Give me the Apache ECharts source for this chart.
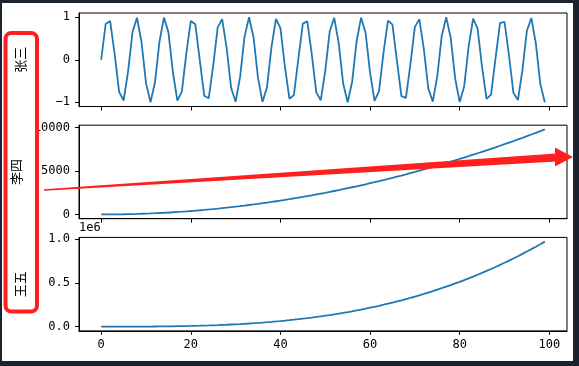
<!DOCTYPE html>
<html><head><meta charset="utf-8">
<script src="https://cdn.jsdelivr.net/npm/echarts@6/dist/echarts.min.js"></script>
<style>
html,body{margin:0;padding:0;background:#1c2330;width:579px;height:366px;overflow:hidden}
#paper{position:absolute;left:2px;top:3px;width:571px;height:358px;background:#fff}
#chart{position:absolute;left:0;top:0;width:579px;height:366px}
</style></head><body>
<div id="paper"></div><div id="chart"></div>
<script>
const xs = [0,1,2,3,4,5,6,7,8,9,10,11,12,13,14,15,16,17,18,19,20,21,22,23,24,25,26,27,28,29,30,31,32,33,34,35,36,37,38,39,40,41,42,43,44,45,46,47,48,49,50,51,52,53,54,55,56,57,58,59,60,61,62,63,64,65,66,67,68,69,70,71,72,73,74,75,76,77,78,79,80,81,82,83,84,85,86,87,88,89,90,91,92,93,94,95,96,97,98,99];
const zhangSan = [0,0.841,0.909,0.141,-0.757,-0.959,-0.279,0.657,0.989,0.412,-0.544,-1.000,-0.537,0.420,0.991,0.650,-0.288,-0.961,-0.751,0.150,0.913,0.837,-0.009,-0.846,-0.906,-0.132,0.763,0.956,0.271,-0.664,-0.988,-0.404,0.551,1.000,0.529,-0.428,-0.992,-0.644,0.296,0.964,0.745,-0.159,-0.917,-0.832,0.018,0.851,0.902,0.124,-0.768,-0.954,-0.262,0.670,0.987,0.396,-0.559,-1.000,-0.522,0.436,0.993,0.637,-0.305,-0.966,-0.739,0.167,0.920,0.827,-0.027,-0.856,-0.898,-0.115,0.774,0.951,0.254,-0.677,-0.985,-0.388,0.566,0.999,0.514,-0.444,-0.994,-0.630,0.313,0.968,0.733,-0.176,-0.923,-0.821,0.035,0.860,0.894,0.106,-0.779,-0.948,-0.245,0.683,0.984,0.380,-0.573,-0.999];
const liSi = [0,1,4,9,16,25,36,49,64,81,100,121,144,169,196,225,256,289,324,361,400,441,484,529,576,625,676,729,784,841,900,961,1024,1089,1156,1225,1296,1369,1444,1521,1600,1681,1764,1849,1936,2025,2116,2209,2304,2401,2500,2601,2704,2809,2916,3025,3136,3249,3364,3481,3600,3721,3844,3969,4096,4225,4356,4489,4624,4761,4900,5041,5184,5329,5476,5625,5776,5929,6084,6241,6400,6561,6724,6889,7056,7225,7396,7569,7744,7921,8100,8281,8464,8649,8836,9025,9216,9409,9604,9801];
const wangWu = [0,1,8,27,64,125,216,343,512,729,1000,1331,1728,2197,2744,3375,4096,4913,5832,6859,8000,9261,10648,12167,13824,15625,17576,19683,21952,24389,27000,29791,32768,35937,39304,42875,46656,50653,54872,59319,64000,68921,74088,79507,85184,91125,97336,103823,110592,117649,125000,132651,140608,148877,157464,166375,175616,185193,195112,205379,216000,226981,238328,250047,262144,274625,287496,300763,314432,328509,343000,357911,373248,389017,405224,421875,438976,456533,474552,493039,512000,531441,551368,571787,592704,614125,636056,658503,681472,704969,729000,753571,778688,804357,830584,857375,884736,912673,941192,970299];
const names = ['张三','李四','王五'];
const xTicks = [0,20,40,60,80,100];
const yTicksTop = [-1,0,1];
const yTicksMid = [0,5000,10000];
const yTicksBot = [0,500000,1000000];
const offsetLabel = '1e6';

const mono = "'DejaVu Sans Mono', monospace";
const cjk = "'Noto Sans CJK SC', sans-serif";
const seriesList = [zhangSan, liSi, wangWu];
const yRanges = [[-1.1, 1.1], [-490.05, 10291.05], [-48514.95, 1018813.95]];
const yTickSets = [yTicksTop, yTicksMid, yTicksBot];
const yFormatters = [
  v => v < 0 ? '\u2212' + Math.abs(v) : String(v),
  v => String(v),
  v => (v / 1e6).toFixed(1)
];
const tops = [13, 125.2, 237.4];

const chart = echarts.init(document.getElementById('chart'), null, {renderer: 'canvas'});
const grids = [], xAxes = [], yAxes = [], series = [];
for (let i = 0; i < 3; i++) {
  grids.push({left: 79, right: 12, top: tops[i], height: 93.5, show: true, borderColor: '#000', borderWidth: 1, backgroundColor: 'transparent'});
  xAxes.push({
    type: 'value', gridIndex: i, min: -4.95, max: 103.95,
    splitLine: {show: false},
    axisLine: {show: true, onZero: false, lineStyle: {color: '#000', width: 1}},
    axisTick: {show: true, inside: false, length: 4, lineStyle: {color: '#000', width: 1}, customValues: xTicks},
    axisLabel: {show: i === 2, inside: false, customValues: xTicks, margin: 8, color: '#000', fontFamily: mono, fontSize: 12}
  });
  yAxes.push({
    type: 'value', gridIndex: i, min: yRanges[i][0], max: yRanges[i][1],
    splitLine: {show: false},
    axisLine: {show: true, onZero: false, lineStyle: {color: '#000', width: 1}},
    axisTick: {show: true, inside: false, length: 4, lineStyle: {color: '#000', width: 1}, customValues: yTickSets[i]},
    axisLabel: {inside: false, customValues: yTickSets[i], formatter: yFormatters[i], margin: 9, color: '#000', fontFamily: mono, fontSize: 12},
    name: names[i], nameLocation: 'middle', nameGap: 52,
    nameTextStyle: {fontFamily: cjk, fontSize: 13, color: '#000'}
  });
  series.push({
    type: 'line', xAxisIndex: i, yAxisIndex: i, showSymbol: false, symbol: 'none',
    data: xs.map((x, k) => [x, seriesList[i][k]]),
    lineStyle: {color: '#1f77b4', width: 1.8}, itemStyle: {color: '#1f77b4'}
  });
}

chart.setOption({
  animation: false,
  backgroundColor: 'transparent',
  grid: grids, xAxis: xAxes, yAxis: yAxes, series: series,
  graphic: [
    {type: 'text', left: 79, top: 222, z: 10, style: {text: offsetLabel, fill: '#000', font: "12px 'DejaVu Sans Mono'"}},
    {type: 'rect', z: 20, shape: {x: 5.5, y: 33, width: 31.5, height: 278.5, r: 6}, style: {fill: 'none', stroke: '#ff1f1f', lineWidth: 4}},
    {type: 'polygon', z: 20, shape: {points: [[44, 189.3], [556, 153.5], [556, 161.5], [44, 190.7]]}, style: {fill: '#ff1f1f'}},
    {type: 'polygon', z: 20, shape: {points: [[555, 147.5], [573, 157], [555, 166.5]]}, style: {fill: '#ff1f1f'}}
  ]
});
</script>
</body></html>
